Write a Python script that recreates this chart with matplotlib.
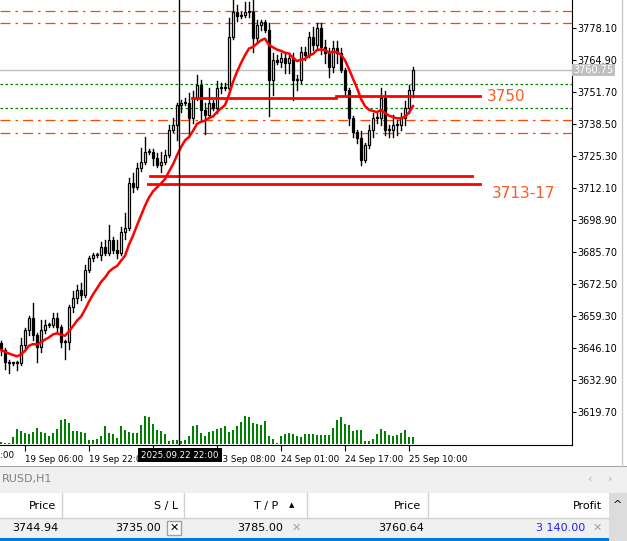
import matplotlib
matplotlib.use("Agg")
import matplotlib.pyplot as plt
import numpy as np
import pandas as pd
from matplotlib.patches import Rectangle

closes = [3645.3,3640.3,3639.9,3639.9,3639.9,3647.3,3653.5,3658.5,3651.5,3646.5,
          3653.5,3655.6,3655.6,3658.5,3654.8,3648.6,3648.6,3663.0,3666.7,3670.0,
          3668.0,3678.3,3683.2,3684.5,3684.5,3687.8,3685.3,3690.7,3686.5,3685.3,
          3694.0,3695.6,3714.2,3712.5,3720.3,3722.8,3727.0,3727.0,3724.5,3721.6,
          3722.8,3725.7,3736.0,3738.1,3746.3,3747.2,3747.2,3741.0,3749.2,3754.6,
          3744.3,3742.2,3747.2,3745.1,3753.4,3753.4,3753.4,3774.4,3784.7,3783.1,
          3783.5,3784.7,3784.7,3774.0,3779.3,3780.6,3777.3,3756.6,3764.9,3764.1,
          3765.7,3763.7,3765.7,3756.6,3756.6,3768.2,3767.0,3774.4,3771.1,3778.1,
          3770.3,3767.8,3762.0,3769.9,3767.8,3760.8,3752.5,3741.0,3735.2,3732.7,
          3723.7,3729.8,3736.0,3741.0,3741.0,3749.2,3736.0,3736.0,3738.1,3738.1,
          3741.0,3745.1,3752.5,3760.7]
first_open = 3648.0
upper_wick = [1,1,1,0.5,1,3,1,1,6,1, 4,2,1,2,2,1,1,1,3,2, 3,2,1,1,1,2,3,6,1,4,
              2,6,2,4,2,6,6,1,1,2, 4,2,2,3,1,1,2,4,3,4, 2,3,6,1,3,2,2,8,5,3,
              1,4,4,6,2,1,1,3,3,2, 2,2,2,2,2,2,2,2,4,2, 2,3,2,3,3,2,1,1,1,1,
              3,1,2,2,2,4,3,2,4,2, 2,3,2,1.5]
lower_wick = [2,3,4,1,3,1,2,2,2,6, 2,1,1,1,2,2,7,3,2,2, 2,1,1,1,1,2,1,1,1,2,
              1,3,1,2,1,1,1,1,3,1, 3,1,1,1,6,3,1,8,2,1, 4,8,1,1,2,2,1,1,1,2,
              1,1,2,6,2,2,1,15,6,1, 2,4,4,8,4,1,2,1,2,2, 3,4,4,2,4,1,2,3,2,2,
              2,1,1,3,2,3,2,3,3,4, 2,3,2,3]
volumes = [2,1,1,7,15,13,11,10,12,16,12,11,8,11,15,24,25,21,13,13,12,11,4,4,5,8,
           18,11,10,6,18,14,12,11,11,19,28,27,20,14,13,10,3,4,4,3,4,8,18,19,11,8,
           12,13,15,16,18,12,14,18,22,28,27,21,20,19,23,8,5,1,8,10,11,10,8,7,10,
           10,10,9,9,9,9,16,24,27,20,19,13,14,14,3,3,5,10,15,13,9,8,9,11,14,7,7]
tick_pos = [6, 22, 38, 54, 70, 86, 102]
tick_labels = ["19 Sep 06:00", "19 Sep 22:00", "", "23 Sep 08:00", "24 Sep 01:00",
               "24 Sep 17:00", "25 Sep 10:00"]
yticks = [3778.10,3764.90,3751.70,3738.50,3725.30,3712.10,3698.90,3685.70,
          3672.50,3659.30,3646.10,3632.90,3619.70]

W, H = 627, 541
fig = plt.figure(figsize=(W/100, H/100), dpi=100)
plt.rcParams['font.family'] = ['DejaVu Sans']

def fx(x): return x / W
def fy(y): return 1 - y / H

ax = fig.add_axes([0, fy(445), fx(572), 445 / H])
vax = fig.add_axes([0, fy(445), fx(572), 445 / H], sharex=ax)
vax.patch.set_alpha(0)
vax.bar(range(len(volumes)), volumes, width=0.35, color='#008000')
vax.set_ylim(-1, 444)
vax.axis('off')

n = len(closes)
opens = [first_open] + closes[:-1]
for i in range(n):
    o, c = opens[i], closes[i]
    hi = max(o, c) + upper_wick[i]
    lo = min(o, c) - lower_wick[i]
    ax.plot([i, i], [lo, hi], color='black', lw=1, zorder=3)
    b = min(o, c); h = max(abs(c - o), 0.3)
    ax.add_patch(Rectangle((i - 0.35, b), 0.7, h, facecolor='white' if c >= o else 'black',
                           edgecolor='black', lw=0.9, zorder=4))
ma = pd.Series(closes).ewm(span=12, adjust=False).mean()
ax.plot(range(n), ma, color='#ff0000', lw=1.8, zorder=5)

for p in [3785.1, 3780.2, 3740.2, 3734.8]:
    ax.axhline(p, color='#ff4500', lw=0.9, dashes=(8, 4, 2, 4), zorder=1)
for p in [3755.0, 3745.1]:
    ax.axhline(p, color='#008000', lw=0.9, dashes=(2, 2), zorder=1)
ax.axhline(3760.75, color='#c0c0c0', lw=1, zorder=1)
ax.plot([47.75, 83.75], [3749.2, 3749.2], color='red', lw=2, zorder=6)
ax.plot([83.75, 119.75], [3750.05, 3750.05], color='red', lw=2, zorder=6)
ax.plot([37.25, 117.75], [3717.05, 3717.05], color='red', lw=2, zorder=6)
ax.plot([36.75, 119.75], [3713.8, 3713.8], color='red', lw=2, zorder=6)
ax.text(121.5, 3750, "3750", color='#ff5a1e', fontsize=11, va='center', zorder=7)
ax.text(122.75, 3709.7, "3713-17", color='#ff5a1e', fontsize=11, va='center', zorder=7)
ax.axvline(44.5, color='black', lw=1, zorder=6)

ax.set_xlim(-0.25, 142.75)
ax.set_ylim(3606.1, 3789.65)
for s in ['left', 'top']:
    ax.spines[s].set_visible(False)
ax.yaxis.tick_right()
ax.set_yticks(yticks)
ax.set_yticklabels([f"{v:.2f}" for v in yticks], fontsize=7)
ax.tick_params(axis='y', length=3, pad=1)
ax.set_xticks(tick_pos)
ax.set_xticklabels(tick_labels, fontsize=6.3, ha='left')
ax.tick_params(axis='x', length=4, pad=3)
ax.text(1.003, (3760.75 - 3606.1) / (3789.65 - 3606.1), "3760.75", transform=ax.transAxes,
        fontsize=7, color='white', va='center', ha='left',
        bbox=dict(facecolor='#c0c0c0', edgecolor='none', pad=1))

fig.text(fx(0), fy(455), ":00", fontsize=6.3, ha='left', va='center')
fig.text(fx(180), fy(455), "2025.09.22 22:00", fontsize=6.3, color='white', ha='center', va='center',
         bbox=dict(facecolor='black', edgecolor='none', pad=2))

# bottom panel
def band(y0, y1, color, x0=0, x1=W):
    fig.patches.append(Rectangle((fx(x0), fy(y1)), fx(x1) - fx(x0), (y1 - y0) / H,
                                 transform=fig.transFigure, facecolor=color, edgecolor='none'))
band(466, 493, '#f0f0f0')
band(493, 518, '#ffffff')
band(518, 538, '#f0f0f0')
band(538, 541, '#0078d7')
band(493, 541, '#dcdcdc', 609, 627)
band(466, 467, '#a0a0a0')
fig.lines.append(plt.Line2D([fx(622), fx(622)], [fy(0), fy(466)], transform=fig.transFigure, color='#c8c8c8', lw=1))
fig.text(fx(2), fy(479), "RUSD,H1", fontsize=8, color='#808080', va='center')
fig.text(fx(587), fy(479), "‹", fontsize=8, color='#b0b0b0', va='center')
fig.text(fx(608), fy(479), "›", fontsize=8, color='#b0b0b0', va='center')
for x in [62, 184, 307, 428]:
    fig.lines.append(plt.Line2D([fx(x), fx(x)], [fy(493), fy(518)], transform=fig.transFigure, color='#d0d0d0', lw=1))
fig.lines.append(plt.Line2D([0, fx(609)], [fy(518), fy(518)], transform=fig.transFigure, color='#d0d0d0', lw=1))
for x, t in [(56, "Price"), (178, "S / L"), (278, "T / P"), (421, "Price"), (602, "Profit")]:
    fig.text(fx(x), fy(506), t, fontsize=8, ha='right', va='center')
fig.text(fx(292), fy(505), "▲", fontsize=5, ha='center', va='center')
fig.text(fx(617), fy(505), "^", fontsize=8, ha='center', va='center')
for x, t, c in [(58, "3744.94", 'black'), (161, "3735.00", 'black'), (283, "3785.00", 'black'),
                (424, "3760.64", 'black'), (585, "3 140.00", '#2020ff')]:
    fig.text(fx(x), fy(528), t, fontsize=8, ha='right', va='center', color=c)
fig.text(fx(174), fy(528), "✕", fontsize=8, ha='center', va='center', fontweight='bold',
         bbox=dict(facecolor='white', edgecolor='#a0a0a0', pad=1.5))
fig.text(fx(296), fy(528), "✕", fontsize=8, ha='center', va='center', color='#a0a0a0')
fig.text(fx(597), fy(528), "✕", fontsize=8, ha='center', va='center', color='#a0a0a0')

fig.savefig("out.png", dpi=100)
